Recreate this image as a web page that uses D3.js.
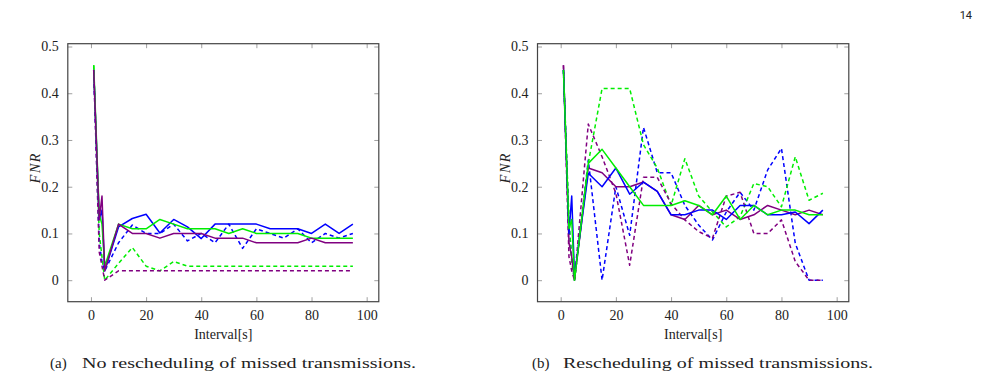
<!DOCTYPE html>
<html>
<head>
<meta charset="utf-8">
<script src="https://cdn.jsdelivr.net/npm/d3@7"></script>
<style>
  body { margin: 0; background: #fff; }
</style>
</head>
<body>
<svg id="viz" width="991" height="388"></svg>
<script>
// ====================
// DATA
// ====================
const intervals = [1, 3, 4, 5, 10, 15, 20, 25, 30, 35, 40, 45, 50, 55, 60, 65, 70, 75, 80, 85, 90, 95];

// (a) no rescheduling
const aBlueSolid    = [0.45, 0.13, 0.15, 0.02, 0.114, 0.132, 0.141, 0.101, 0.13, 0.114, 0.089, 0.12, 0.12, 0.12, 0.12, 0.11, 0.11, 0.11, 0.10, 0.12, 0.10, 0.12];
const aGreenSolid   = [0.46, 0.14, 0.12, 0.03, 0.12, 0.11, 0.11, 0.13, 0.12, 0.11, 0.11, 0.11, 0.10, 0.11, 0.10, 0.10, 0.10, 0.10, 0.09, 0.09, 0.09, 0.09];
const aPurpleSolid  = [0.45, 0.13, 0.18, 0.02, 0.12, 0.10, 0.10, 0.09, 0.10, 0.10, 0.10, 0.09, 0.09, 0.09, 0.08, 0.08, 0.08, 0.08, 0.09, 0.08, 0.08, 0.08];
const aBlueDashed   = [0.45, 0.08, 0.04, 0.02, 0.08, 0.118, 0.10, 0.10, 0.12, 0.084, 0.10, 0.08, 0.12, 0.068, 0.11, 0.10, 0.09, 0.11, 0.08, 0.10, 0.09, 0.10];
const aGreenDashed  = [0.46, 0.10, 0.05, 0.00, 0.036, 0.07, 0.03, 0.02, 0.04, 0.03, 0.03, 0.03, 0.03, 0.03, 0.03, 0.03, 0.03, 0.03, 0.03, 0.03, 0.03, 0.03];
const aPurpleDashed = [0.45, 0.06, 0.03, 0.00, 0.02, 0.02, 0.02, 0.02, 0.02, 0.02, 0.02, 0.02, 0.02, 0.02, 0.02, 0.02, 0.02, 0.02, 0.02, 0.02, 0.02, 0.02];

// (b) rescheduling
const bBlueSolid    = [0.45, 0.10, 0.18, 0.01, 0.229, 0.20, 0.24, 0.184, 0.21, 0.19, 0.14, 0.14, 0.15, 0.15, 0.13, 0.16, 0.16, 0.14, 0.14, 0.146, 0.121, 0.15];
const bGreenSolid   = [0.45, 0.11, 0.13, 0.00, 0.25, 0.28, 0.24, 0.20, 0.16, 0.16, 0.16, 0.17, 0.16, 0.14, 0.18, 0.13, 0.16, 0.14, 0.15, 0.15, 0.14, 0.14];
const bPurpleSolid  = [0.46, 0.08, 0.05, 0.00, 0.24, 0.23, 0.20, 0.20, 0.21, 0.19, 0.14, 0.13, 0.16, 0.14, 0.15, 0.13, 0.14, 0.16, 0.15, 0.14, 0.15, 0.14];
const bBlueDashed   = [0.45, 0.12, 0.05, 0.00, 0.257, 0.00, 0.20, 0.096, 0.327, 0.23, 0.23, 0.16, 0.118, 0.086, 0.146, 0.188, 0.15, 0.236, 0.282, 0.079, 0.00, 0.00];
const bGreenDashed  = [0.45, 0.13, 0.04, 0.00, 0.25, 0.41, 0.41, 0.41, 0.29, 0.24, 0.16, 0.26, 0.18, 0.146, 0.114, 0.136, 0.207, 0.20, 0.157, 0.264, 0.171, 0.186];
const bPurpleDashed = [0.46, 0.05, 0.02, 0.00, 0.334, 0.264, 0.186, 0.032, 0.22, 0.22, 0.164, 0.129, 0.104, 0.09, 0.18, 0.188, 0.10, 0.10, 0.129, 0.04, 0.00, 0.00];

const xTicks = [0, 20, 40, 60, 80, 100];
const yTicks = [0, 0.1, 0.2, 0.3, 0.4, 0.5];
const xDomain = [-8.4, 104.4];
const yDomain = [-0.046, 0.506];

const colors = { blue: '#0000ff', green: '#00ee00', purple: '#800080' };
const serif = '"Liberation Serif", serif';

// ====================
// SETUP
// ====================
const svg = d3.select('#viz');
svg.append('rect').attr('width', 991).attr('height', 388).attr('fill', '#fff');

const panels = [
  {
    left: 67.8, right: 378.8, caption: 'No rescheduling of missed transmissions.', tag: '(a)',
    capX: 50, capTextX: 82, capEnd: 416,
    series: [
      { values: aBlueDashed, color: colors.blue, dashed: true },
      { values: aGreenDashed, color: colors.green, dashed: true },
      { values: aPurpleDashed, color: colors.purple, dashed: true },
      { values: aBlueSolid, color: colors.blue, dashed: false },
      { values: aGreenSolid, color: colors.green, dashed: false },
      { values: aPurpleSolid, color: colors.purple, dashed: false }
    ]
  },
  {
    left: 537.5, right: 848.8, caption: 'Rescheduling of missed transmissions.', tag: '(b)',
    capX: 532, capTextX: 563, capEnd: 873,
    series: [
      { values: bBlueDashed, color: colors.blue, dashed: true },
      { values: bGreenDashed, color: colors.green, dashed: true },
      { values: bPurpleDashed, color: colors.purple, dashed: true },
      { values: bPurpleSolid, color: colors.purple, dashed: false },
      { values: bBlueSolid, color: colors.blue, dashed: false },
      { values: bGreenSolid, color: colors.green, dashed: false }
    ]
  }
];

const plotTop = 43.7;
const plotBottom = 301.7;

// ====================
// DRAW
// ====================
panels.forEach((p) => {
  const x = d3.scaleLinear().domain(xDomain).range([p.left, p.right]);
  const y = d3.scaleLinear().domain(yDomain).range([plotBottom, plotTop]);
  const g = svg.append('g');

  // lines
  const line = d3.line()
    .x((d) => x(d[0]))
    .y((d) => y(d[1]));

  g.selectAll('path.series')
    .data(p.series)
    .join('path')
    .attr('class', 'series')
    .attr('d', (s) => line(intervals.map((iv, i) => [iv, s.values[i]])))
    .attr('fill', 'none')
    .attr('stroke', (s) => s.color)
    .attr('stroke-width', 1.5)
    .attr('stroke-linejoin', 'round')
    .attr('stroke-dasharray', (s) => (s.dashed ? '4,3' : null));

  // axes (inward ticks on all four sides)
  const bottomAxis = d3.axisBottom(x).tickValues(xTicks).tickSizeInner(-4.5).tickSizeOuter(0).tickPadding(8).tickFormat(d3.format('d'));
  const topAxis = d3.axisTop(x).tickValues(xTicks).tickSizeInner(-4.5).tickSizeOuter(0).tickFormat('');
  const leftAxis = d3.axisLeft(y).tickValues(yTicks).tickSizeInner(-4.5).tickSizeOuter(0).tickPadding(9).tickFormat((d) => (d === 0 ? '0' : d3.format('.1f')(d)));
  const rightAxis = d3.axisRight(y).tickValues(yTicks).tickSizeInner(-4.5).tickSizeOuter(0).tickFormat('');

  const axes = [
    g.append('g').attr('transform', `translate(0,${plotBottom})`).call(bottomAxis),
    g.append('g').attr('transform', `translate(0,${plotTop})`).call(topAxis),
    g.append('g').attr('transform', `translate(${p.left},0)`).call(leftAxis),
    g.append('g').attr('transform', `translate(${p.right},0)`).call(rightAxis)
  ];
  axes.forEach((a) => {
    a.attr('font-family', null).attr('font-size', null);
    a.select('.domain').remove();
    a.selectAll('.tick line').attr('stroke', '#888').attr('stroke-width', 0.8);
    a.selectAll('.tick text')
      .style('font-family', serif)
      .style('font-size', '14px')
      .attr('fill', '#222');
  });

  // frame
  g.append('rect')
    .attr('x', p.left).attr('y', plotTop)
    .attr('width', p.right - p.left).attr('height', plotBottom - plotTop)
    .attr('fill', 'none').attr('stroke', '#444').attr('stroke-width', 1.2);

  // axis labels
  const cx = (p.left + p.right) / 2;
  g.append('text')
    .attr('x', cx).attr('y', 339)
    .attr('text-anchor', 'middle')
    .style('font-family', serif)
    .style('font-size', '14px')
    .attr('fill', '#222')
    .text('Interval[s]');

  g.append('text')
    .attr('transform', `translate(${p.left - 28},${(plotTop + plotBottom) / 2 - 5}) rotate(-90)`)
    .attr('text-anchor', 'middle')
    .style('font-family', serif)
    .style('font-size', '14px')
    .style('font-style', 'italic')
    .style('letter-spacing', '1.5px')
    .attr('fill', '#222')
    .text('FNR');

  // caption
  g.append('text')
    .attr('x', p.capX).attr('y', 368)
    .style('font-family', serif)
    .style('font-size', '15px')
    .attr('fill', '#222')
    .text(p.tag);
  g.append('text')
    .attr('x', p.capTextX).attr('y', 368)
    .style('font-family', serif)
    .style('font-size', '15px')
    .attr('fill', '#222')
    .attr('textLength', p.capEnd - p.capTextX)
    .attr('lengthAdjust', 'spacingAndGlyphs')
    .text(p.caption);
});

// page number
svg.append('text')
  .attr('x', 972).attr('y', 19)
  .attr('text-anchor', 'end')
  .style('font-family', 'Roboto, sans-serif')
  .style('font-size', '11px')
  .attr('fill', '#222')
  .text('14');
</script>
</body>
</html>
